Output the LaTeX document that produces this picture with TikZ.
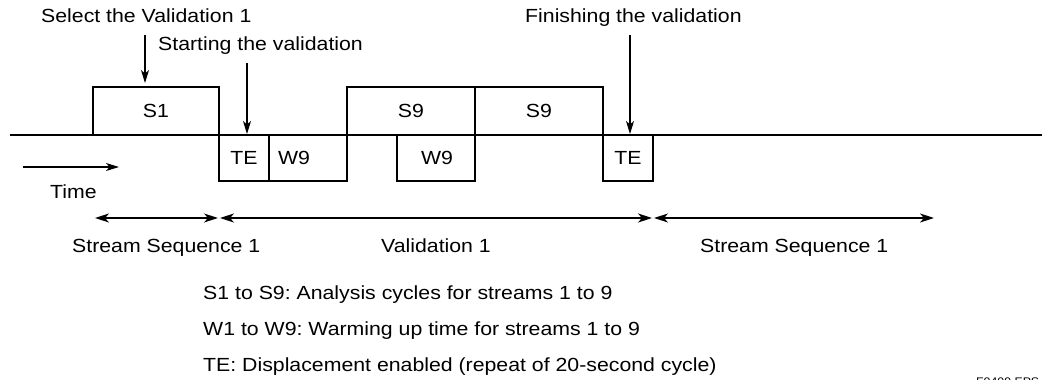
\documentclass[tikz,border=0pt]{standalone}
\usepackage{fontspec}
\setmainfont{Liberation Sans}[FakeStretch=1.12]
\usetikzlibrary{arrows.meta}
\frenchspacing
\begin{document}
\begin{tikzpicture}[x=1pt,y=-1pt,
  ln/.style={line width=1.2pt},
  bx/.style={draw,line width=1.2pt},
  lbl/.style={font=\fontsize{19}{21}\selectfont,inner sep=0pt},
  tip/.style={-{Stealth[length=13pt,width=8pt,inset=3.5pt]}},
  dtip/.style={{Stealth[length=14pt,width=9pt,inset=4pt]}-{Stealth[length=14pt,width=9pt,inset=4pt]}}]
\useasboundingbox (0,0) rectangle (1042,380);
% baseline
\coordinate (l0) at (10,135);
\coordinate (l1) at (1042,135);
\draw[ln] (l0) -- (l1);
% boxes
\draw[bx] (93,135) rectangle (219,87);
\draw[bx] (219,135) rectangle (269,181);
\draw[bx] (269,135) rectangle (347,181);
\draw[bx] (347,135) rectangle (475,87);
\draw[bx] (475,135) rectangle (603,87);
\draw[bx] (397,135) rectangle (475,181);
\draw[bx] (603,135) rectangle (653,181);
% box labels
\node[lbl] (s1) at (156,111) {S1};
\node[lbl] (te1) at (244,158) {TE};
\node[lbl] (w9a) at (294,158) {W9};
\node[lbl] (s9a) at (411,111) {S9};
\node[lbl] (s9b) at (539,111) {S9};
\node[lbl] (w9b) at (437,158) {W9};
\node[lbl] (te2) at (628,158) {TE};
% top annotations
\node[lbl,anchor=base west] (sel) at (41,23) {Select the Validation 1};
\node[lbl,anchor=base west] (start) at (158,50) {Starting the validation};
\node[lbl,anchor=base west] (fin) at (525,23) {Finishing the validation};
\coordinate (a1s) at (145,35); \coordinate (a1e) at (145,83);
\coordinate (a2s) at (247,63); \coordinate (a2e) at (247,134);
\coordinate (a3s) at (630,35); \coordinate (a3e) at (630,134);
\draw[ln,tip] (a1s) -- (a1e);
\draw[ln,tip] (a2s) -- (a2e);
\draw[ln,tip] (a3s) -- (a3e);
% time
\coordinate (t0) at (23,167); \coordinate (t1) at (119,167);
\draw[ln,tip] (t0) -- (t1);
\node[lbl,anchor=base west] (time) at (50,198) {Time};
% spans
\coordinate (d0) at (95,218); \coordinate (d1) at (218,218);
\coordinate (d2) at (220,218); \coordinate (d3) at (652,218);
\coordinate (d4) at (654,218); \coordinate (d5) at (934,218);
\draw[ln,dtip] (d0) -- (d1);
\draw[ln,dtip] (d2) -- (d3);
\draw[ln,dtip] (d4) -- (d5);
\node[lbl,anchor=base west] (ss1) at (72,252) {Stream Sequence 1};
\node[lbl,anchor=base west] (val) at (381,252) {Validation 1};
\node[lbl,anchor=base west] (ss2) at (700,252) {Stream Sequence 1};
% legend
\node[lbl,anchor=base west] (lg1) at (203,299) {S1 to S9: Analysis cycles for streams 1 to 9};
\node[lbl,anchor=base west] (lg2) at (203,335) {W1 to W9: Warming up time for streams 1 to 9};
\node[lbl,anchor=base west] (lg3) at (203,371) {TE: Displacement enabled (repeat of 20-second cycle)};
\begin{scope}
\clip (0,0) rectangle (1042,380);
\node[font=\fontsize{11}{12}\selectfont,anchor=base west,inner sep=0pt] (fig) at (976,385) {F0409.EPS};
\end{scope}
\end{tikzpicture}
\end{document}
